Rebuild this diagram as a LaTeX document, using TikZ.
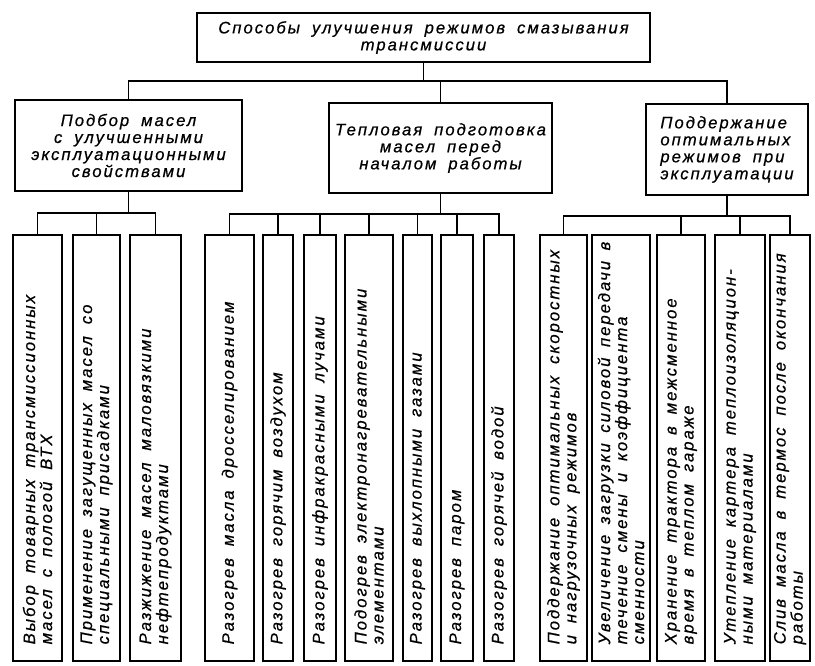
\documentclass[tikz,border=0pt]{standalone}
\usepackage{fontspec}
\newfontfamily\gostfont[LetterSpace=12, WordSpace=1.8, FakeBold=0.6]{Liberation Sans}
\tikzset{
  block/.style={draw, line width=1.4pt, align=center, inner sep=2pt},
  slat/.style={draw, line width=1.4pt, rotate=90, minimum width=319.5pt,
    text width=309.5pt, inner xsep=5pt, inner ysep=0pt, align=left,
    execute at begin node={\leftskip=7.5pt\spaceskip=0pt\xspaceskip=0pt\rightskip=0pt plus 1fil}},
  link/.style={line width=1.4pt}
}
\begin{document}
\begin{tikzpicture}[x=0.75pt, y=-0.75pt, font=\gostfont\itshape\fontsize{12.5}{12.75}\selectfont]
\useasboundingbox (0,0) rectangle (815,666);
%top
\node[block, minimum width=339.75pt, minimum height=36.75pt] (p0) at (423.5,37.5) {Способы улучшения режимов смазывания\\трансмиссии};
%second row
\node[block, minimum width=170.25pt, minimum height=68.25pt] (p1) at (128.5,145.5) {Подбор масел\\с улучшенными\\эксплуатационными\\свойствами};
\node[block, minimum width=167.25pt, minimum height=67.5pt] (p2) at (440.5,148) {Тепловая подготовка\\масел перед\\началом работы};
\node[block, minimum width=121.5pt, minimum height=68.25pt, align=left] (p3) at (727,149.5) {Поддержание\\оптимальных\\режимов при\\эксплуатации};
%branch 1
\node[slat, minimum height=36.75pt] (c1) at (37.5,448) {Выбор товарных трансмиссионных\\масел с пологой ВТХ};
\node[slat, minimum height=35.25pt] (c2) at (96.5,448) {Применение загущенных масел со\\специальными присадками};
\node[slat, minimum height=38.25pt] (c3) at (155.5,448) {Разжижение масел маловязкими\\нефтепродуктами};
%branch 2
\node[slat, minimum height=36.75pt] (c4) at (229.5,448) {Разогрев масла дросселированием};
\node[slat, minimum height=22.5pt] (c5) at (278,448) {Разогрев горячим воздухом};
\node[slat, minimum height=24pt] (c6) at (320,448) {Разогрев инфракрасными лучами};
\node[slat, minimum height=36pt] (c7) at (369,448) {Подогрев электронагревательными\\элементами};
\node[slat, minimum height=21.75pt] (c8) at (417.5,448) {Разогрев выхлопными газами};
\node[slat, minimum height=24pt] (c9) at (457,448) {Разогрев паром};
\node[slat, minimum height=22.5pt] (c10) at (499,448) {Разогрев горячей водой};
%branch 3
\node[slat, minimum height=35.25pt] (c11) at (563.5,448) {Поддержание оптимальных скоростных\\и нагрузочных режимов};
\node[slat, minimum height=43.5pt] (c12) at (621,448) {Увеличение загрузки силовой передачи в\\течение смены и коэффициента\\сменности};
\node[slat, minimum height=36pt] (c13) at (681,448) {Хранение трактора в межсменное\\время в теплом гараже};
\node[slat, minimum height=37.5pt] (c14) at (740,448) {Утепление картера теплоизоляцион-\\ными материалами};
\node[slat, minimum height=30pt] (c15) at (790,448) {Слив масла в термос после окончания\\работы};

%bus levels
\coordinate (b0) at (0,81);
\coordinate (b1) at (0,213);
\coordinate (b2) at (0,214);
\coordinate (b3) at (0,216);
\draw[link] (p0.south) -- (p0.south |- b0) -| (p1.north);
\draw[link] (p0.south) -- (p0.south |- b0) -| (p2.north);
\draw[link] (p0.south) -- (p0.south |- b0) -| (p3.north);
%slats: east is the top
\draw[link] (p1.south) -- (p1.south |- b1) -| (c1.east);
\draw[link] (p1.south) -- (p1.south |- b1) -| (c2.east);
\draw[link] (p1.south) -- (p1.south |- b1) -| (c3.east);
\draw[link] (p2.south) -- (p2.south |- b2) -| (c4.east);
\draw[link] (p2.south) -- (p2.south |- b2) -| (c5.east);
\draw[link] (p2.south) -- (p2.south |- b2) -| (c6.east);
\draw[link] (p2.south) -- (p2.south |- b2) -| (c7.east);
\draw[link] (p2.south) -- (p2.south |- b2) -| (c8.east);
\draw[link] (p2.south) -- (p2.south |- b2) -| (c9.east);
\draw[link] (p2.south) -- (p2.south |- b2) -| (c10.east);
\draw[link] (p3.south) -- (p3.south |- b3) -| (c11.east);
\draw[link] (p3.south) -- (p3.south |- b3) -| (c13.east);
\draw[link] (p3.south) -- (p3.south |- b3) -| (c14.east);
\draw[link] (p3.south) -- (p3.south |- b3) -| (c15.east);
\end{tikzpicture}
\end{document}
